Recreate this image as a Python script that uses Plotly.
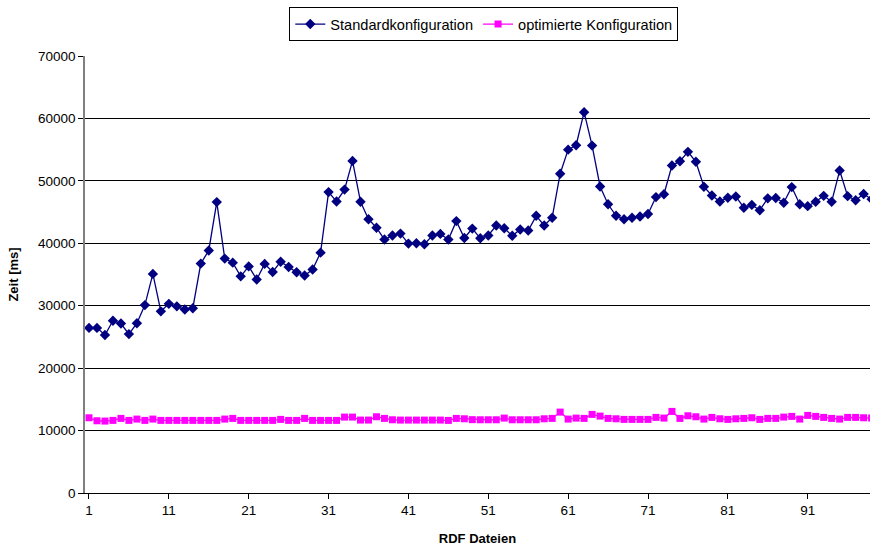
import plotly.graph_objects as go

files = list(range(1, 100))

standard = [26450, 26450, 25300, 27600, 27150, 25450, 27200, 30100, 35100, 29100,
            30300, 29900, 29400, 29600, 36750, 38850, 46600, 37550, 36900, 34700,
            36300, 34200, 36700, 35400, 37050, 36200, 35350, 34850, 35800, 38500,
            48200, 46700, 48600, 53200, 46650, 43850, 42500, 40600, 41250, 41550,
            39950, 40000, 39850, 41250, 41500, 40600, 43550, 40850, 42350, 40800,
            41250, 42850, 42400, 41200, 42200, 42050, 44400, 42850, 44100, 51150,
            55000, 55700, 61000, 55650, 49100, 46250, 44400, 43850, 44100, 44300,
            44700, 47400, 47850, 52450, 53150, 54650, 53050, 49050, 47650, 46700,
            47300, 47500, 45700, 46150, 45300, 47200, 47250, 46500, 49000, 46250,
            45950, 46650, 47600, 46650, 51650, 47550, 46900, 47900, 47050]

optimiert = [12050, 11570, 11520, 11630, 11950, 11630, 11840, 11630, 11840, 11630,
             11630, 11630, 11630, 11630, 11630, 11630, 11630, 11840, 11950, 11630,
             11630, 11630, 11630, 11630, 11790, 11630, 11630, 11950, 11630, 11630,
             11630, 11630, 12160, 12160, 11680, 11680, 12210, 11950, 11730, 11680,
             11680, 11680, 11680, 11680, 11680, 11630, 11950, 11890, 11750, 11730,
             11730, 11730, 12000, 11730, 11730, 11730, 11730, 11890, 11950, 12960,
             11840, 12000, 11950, 12590, 12320, 11950, 11890, 11790, 11790, 11790,
             11790, 12110, 12000, 13070, 11950, 12370, 12210, 11840, 12110, 11890,
             11790, 11890, 11950, 12050, 11790, 11950, 11950, 12160, 12270, 11840,
             12430, 12270, 12110, 11950, 11840, 12110, 12110, 12050, 12000]

x_ticks = [1, 11, 21, 31, 41, 51, 61, 71, 81, 91]
y_ticks = [0, 10000, 20000, 30000, 40000, 50000, 60000, 70000]

font_family = "Liberation Sans, Arial, sans-serif"

fig = go.Figure()
fig.add_trace(go.Scatter(
    x=files, y=standard, name="Standardkonfiguration", mode="lines+markers",
    line=dict(color="#000080", width=1.3),
    marker=dict(symbol="diamond", size=8, color="#000080"),
))
fig.add_trace(go.Scatter(
    x=files, y=optimiert, name="optimierte Konfiguration", mode="lines+markers",
    line=dict(color="#FF00FF", width=1.3),
    marker=dict(symbol="square", size=7, color="#FF00FF"),
))

fig.update_layout(
    width=870, height=547,
    margin=dict(l=85, r=0, t=56, b=54),
    paper_bgcolor="white", plot_bgcolor="white",
    font=dict(family=font_family, size=13.5, color="black"),
    showlegend=True,
    legend=dict(
        orientation="h", x=0.508, xanchor="center", y=1.112, yanchor="top",
        bordercolor="black", borderwidth=1, bgcolor="white",
        font=dict(size=14.6), itemwidth=30, tracegroupgap=0,
    ),
    xaxis=dict(
        range=[0.5, 98.8], tickmode="array", tickvals=x_ticks,
        ticks="outside", ticklen=5, tickcolor="black",
        tickfont=dict(size=13.5),
        showgrid=False, zeroline=False,
        showline=True, linecolor="black", linewidth=1,
        title=dict(text="<b>RDF Dateien</b>", standoff=16, font=dict(size=13)),
    ),
    yaxis=dict(
        range=[0, 70000], tickmode="array", tickvals=y_ticks,
        ticktext=[str(v) for v in y_ticks],
        ticks="outside", ticklen=5, tickcolor="black",
        tickfont=dict(size=13.5),
        showgrid=True, gridcolor="black", gridwidth=1,
        zeroline=False, showline=True, linecolor="#808080", linewidth=1.5,
        title=dict(text="<b>Zeit [ms]</b>", standoff=16, font=dict(size=13)),
    ),
)

fig.write_html("out.html")
